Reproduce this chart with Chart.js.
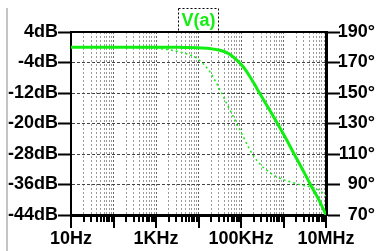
<!DOCTYPE html>
<html>
<head>
<meta charset="utf-8">
<script src="https://cdn.jsdelivr.net/npm/chart.js@4.4.1/dist/chart.umd.min.js"></script>
<style>
    html, body { margin: 0; padding: 0; background: #fff; }
    #wrap { position: relative; width: 379px; height: 251px; }
    #edge { position: absolute; left: 6px; top: 8px; width: 2px; height: 243px; background: #c4c4c4; }
    #bode { position: absolute; left: 0; top: 0; }
</style>
</head>
<body>
<div id="wrap">
    <div id="edge"></div>
    <canvas id="bode" width="379" height="251"></canvas>
</div>
<script>
// values
var freqs = [10, 100, 1000, 2000, 4500, 9000, 18000, 32000, 50000, 72000, 110000, 160000,
    200000, 300000, 480000, 800000, 1200000, 1700000, 2500000, 4600000, 7000000, 10000000];
var magDb = [0, 0, 0, 0, -0.05, -0.1, -0.3, -0.8, -1.6, -2.9, -5.0, -7.6,
    -9.4, -12.8, -16.6, -20.9, -24.4, -27.6, -31.0, -36.6, -40.3, -44.0];
var phaseDeg = [180, 180, 179.2, 178.4, 176.2, 172.9, 164.4, 152.1, 141.1, 132.4, 122, 113,
    108.5, 102.5, 97.8, 94.2, 92.4, 91.2, 89.8, 88.3, 86.2, 82.5];

var xTickValues = [10, 1e3, 1e5, 1e7];
var xTickLabels = ['10Hz', '1KHz', '100KHz', '10MHz'];
var traceName = 'V(a)';

var GREEN = '#11ee11';
var FONT = { family: '"Liberation Sans", Arial, sans-serif', size: 18, weight: 'bold' };

function points(ys) {
    return freqs.map(function (f, i) { return { x: f, y: ys[i] }; });
}

// plot frame top edge, bottom tick marks and the trace label
var framePlugin = {
    id: 'frame',
    afterDraw: function (chart) {
        var ctx = chart.ctx;
        var a = chart.chartArea;
        var xs = chart.scales.x;
        ctx.save();
        ctx.strokeStyle = '#000';
        ctx.lineWidth = 2;
        ctx.beginPath();
        ctx.moveTo(a.left - 1, a.top);
        ctx.lineTo(a.right + 1, a.top);
        ctx.stroke();

        xs.ticks.forEach(function (t) {
            var px = Math.round(xs.getPixelForValue(t.value));
            ctx.beginPath();
            ctx.moveTo(px, a.bottom);
            ctx.lineTo(px, a.bottom + (t.major ? 13 : 7));
            ctx.stroke();
        });

        ctx.font = 'bold 18px "Liberation Sans", Arial, sans-serif';
        var w = ctx.measureText(traceName).width;
        var cx = (a.left + a.right) / 2;
        ctx.fillStyle = GREEN;
        ctx.textAlign = 'center';
        ctx.textBaseline = 'alphabetic';
        ctx.fillText(traceName, cx, a.top - 6);
        ctx.lineWidth = 1;
        ctx.setLineDash([2, 2]);
        ctx.strokeStyle = '#000';
        ctx.strokeRect(Math.round(cx - w / 2 - 3) + 0.5, 8.5, Math.round(w + 6), a.top - 9);
        ctx.restore();
    }
};

new Chart(document.getElementById('bode'), {
    type: 'line',
    data: {
        datasets: [{
            label: 'mag',
            data: points(magDb),
            yAxisID: 'y',
            borderColor: GREEN,
            borderWidth: 3,
            pointRadius: 0,
            cubicInterpolationMode: 'monotone',
        }, {
            label: 'phase',
            data: points(phaseDeg),
            yAxisID: 'y2',
            borderColor: GREEN,
            borderWidth: 1.5,
            borderDash: [2, 3],
            pointRadius: 0,
            cubicInterpolationMode: 'monotone',
        }]
    },
    options: {
        responsive: false,
        animation: false,
        devicePixelRatio: 1,
        layout: { padding: { top: 32, right: 4, left: 0, bottom: 0 } },
        plugins: {
            legend: { display: false },
            tooltip: { enabled: false }
        },
        scales: {
            x: {
                type: 'logarithmic',
                min: 10,
                max: 1e7,
                afterBuildTicks: function (axis) {
                    var t = [];
                    for (var e = 1; e <= 7; e++) {
                        for (var m = 1; m <= 9; m++) {
                            var v = m * Math.pow(10, e);
                            if (v <= 1e7) t.push({ value: v, major: m === 1 });
                        }
                    }
                    axis.ticks = t;
                },
                afterFit: function (axis) { axis.height = 36; },
                grid: {
                    drawTicks: false,
                    color: function (c) { return c.tick && c.tick.major ? '#666' : '#999'; },
                    lineWidth: 1
                },
                border: { color: '#000', width: 3, dash: [2, 2] },
                ticks: {
                    autoSkip: false,
                    maxRotation: 0,
                    padding: 13,
                    color: '#000',
                    font: FONT,
                    callback: function (value) {
                        var i = xTickValues.indexOf(value);
                        return i >= 0 ? xTickLabels[i] : '';
                    }
                }
            },
            y: {
                position: 'left',
                min: -44,
                max: 4,
                afterFit: function (axis) { axis.width = 71; },
                grid: {
                    color: '#444',
                    lineWidth: 1,
                    tickColor: '#000',
                    tickWidth: 2,
                    tickLength: 13
                },
                border: { color: '#000', width: 2, dash: [3, 2] },
                ticks: {
                    stepSize: 8,
                    padding: 0,
                    color: '#000',
                    font: FONT,
                    callback: function (v) { return v + 'dB'; }
                }
            },
            y2: {
                position: 'right',
                min: 70,
                max: 190,
                afterFit: function (axis) { axis.width = 49; },
                grid: {
                    drawOnChartArea: false,
                    tickColor: '#000',
                    tickWidth: 2,
                    tickLength: 14
                },
                border: { color: '#000', width: 3 },
                ticks: {
                    stepSize: 20,
                    padding: 0,
                    crossAlign: 'far',
                    color: '#000',
                    font: FONT,
                    callback: function (v) { return v + '°'; }
                }
            }
        }
    },
    plugins: [framePlugin]
});
</script>
</body>
</html>
